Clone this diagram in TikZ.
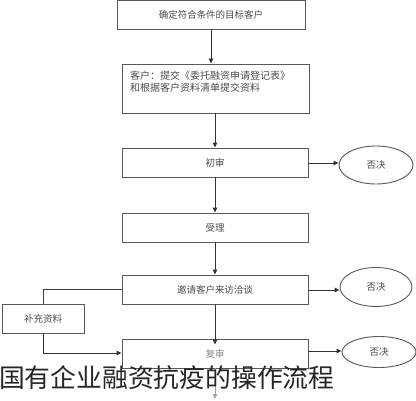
\documentclass[tikz,border=0pt]{standalone}
\usepackage{fontspec}
\newfontfamily\cjk{Noto Sans CJK SC}
\usetikzlibrary{arrows.meta,shapes.geometric}
\begin{document}
\begin{tikzpicture}[x=1pt,y=-1pt,
  boxst/.style={draw=black!65, line width=0.9pt, rectangle, minimum height=29pt, inner sep=0pt, font=\cjk\fontsize{9.5}{11}\selectfont, text=black!70},
  ellst/.style={draw=black!65, line width=0.9pt, ellipse, inner sep=0pt, font=\cjk\fontsize{9.5}{11}\selectfont, text=black!70},
  arr/.style={draw=black!80, line width=0.9pt, -{Triangle[length=5pt,width=4.5pt]}},
  lnk/.style={draw=black!75, line width=0.9pt}]
\useasboundingbox (0,0) rectangle (416,400);
\fill[white] (0,0) rectangle (416,400);
\node[boxst, minimum width=188pt] (b1) at (211,15) {确定符合条件的目标客户};
\node[boxst, minimum width=187pt, minimum height=49pt] (b2) at (215.5,88.5) {};
\node[anchor=north west, inner sep=0pt, align=left, font=\cjk\fontsize{10}{12}\selectfont, text=black!70] (t2) at (130,71) {客户：提交《委托融资申请登记表》\\和根据客户资料清单提交资料};
\node[boxst, minimum width=186pt] (b3) at (215,162.5) {初审};
\node[boxst, minimum width=186pt] (b4) at (215,227.5) {受理};
\node[boxst, minimum width=186pt] (b5) at (215,289.5) {邀请客户来访洽谈};
\node[boxst, minimum width=186pt, text=black!45] (b6) at (215,353.5) {复审};
\node[boxst, minimum width=82pt] (bl) at (43,318.5) {补充资料};
\node[ellst, minimum width=74pt, minimum height=38pt] (e1) at (376,165) {否决};
\node[ellst, minimum width=72pt, minimum height=39pt] (e2) at (376,287) {否决};
\node[ellst, minimum width=74pt, minimum height=31pt] (e3) at (379,352) {否决};
\coordinate (c1) at (43,289.5);
\coordinate (c2) at (43,353);
\coordinate (cend) at (215,399);
\draw[arr] (b1.south -| 211,0) -- (b2.north -| 211,0);
\draw[arr] (b2.south -| 215,0) -- (b3.north -| 215,0);
\draw[arr] (b3.south) -- (b4.north);
\draw[arr] (b4.south) -- (b5.north);
\draw[arr] (b5.south) -- ([yshift=-6pt]b6.north);
\draw[arr] (b3.east |- 0,163) -- (e1.west |- 0,163);
\draw[arr] (b5.east |- 0,290) -- (e2.west |- 0,290);
\draw[arr] (b6.east |- 0,351) -- (e3.west |- 0,351);
\draw[lnk] (b5.west) -- (c1) -- (bl.north);
\draw[arr] (bl.south) -- (c2) -- (b6.west |- c2);
\draw[draw=black!35, line width=0.9pt, -{Triangle[length=5pt,width=4.5pt]}] (b6.south) -- (cend);
\node[anchor=west, inner sep=0pt, font=\cjk\fontsize{25.8}{28}\selectfont, text=black!85] (cap) at (-1,378) {国有企业融资抗疫的操作流程};
\end{tikzpicture}
\end{document}
